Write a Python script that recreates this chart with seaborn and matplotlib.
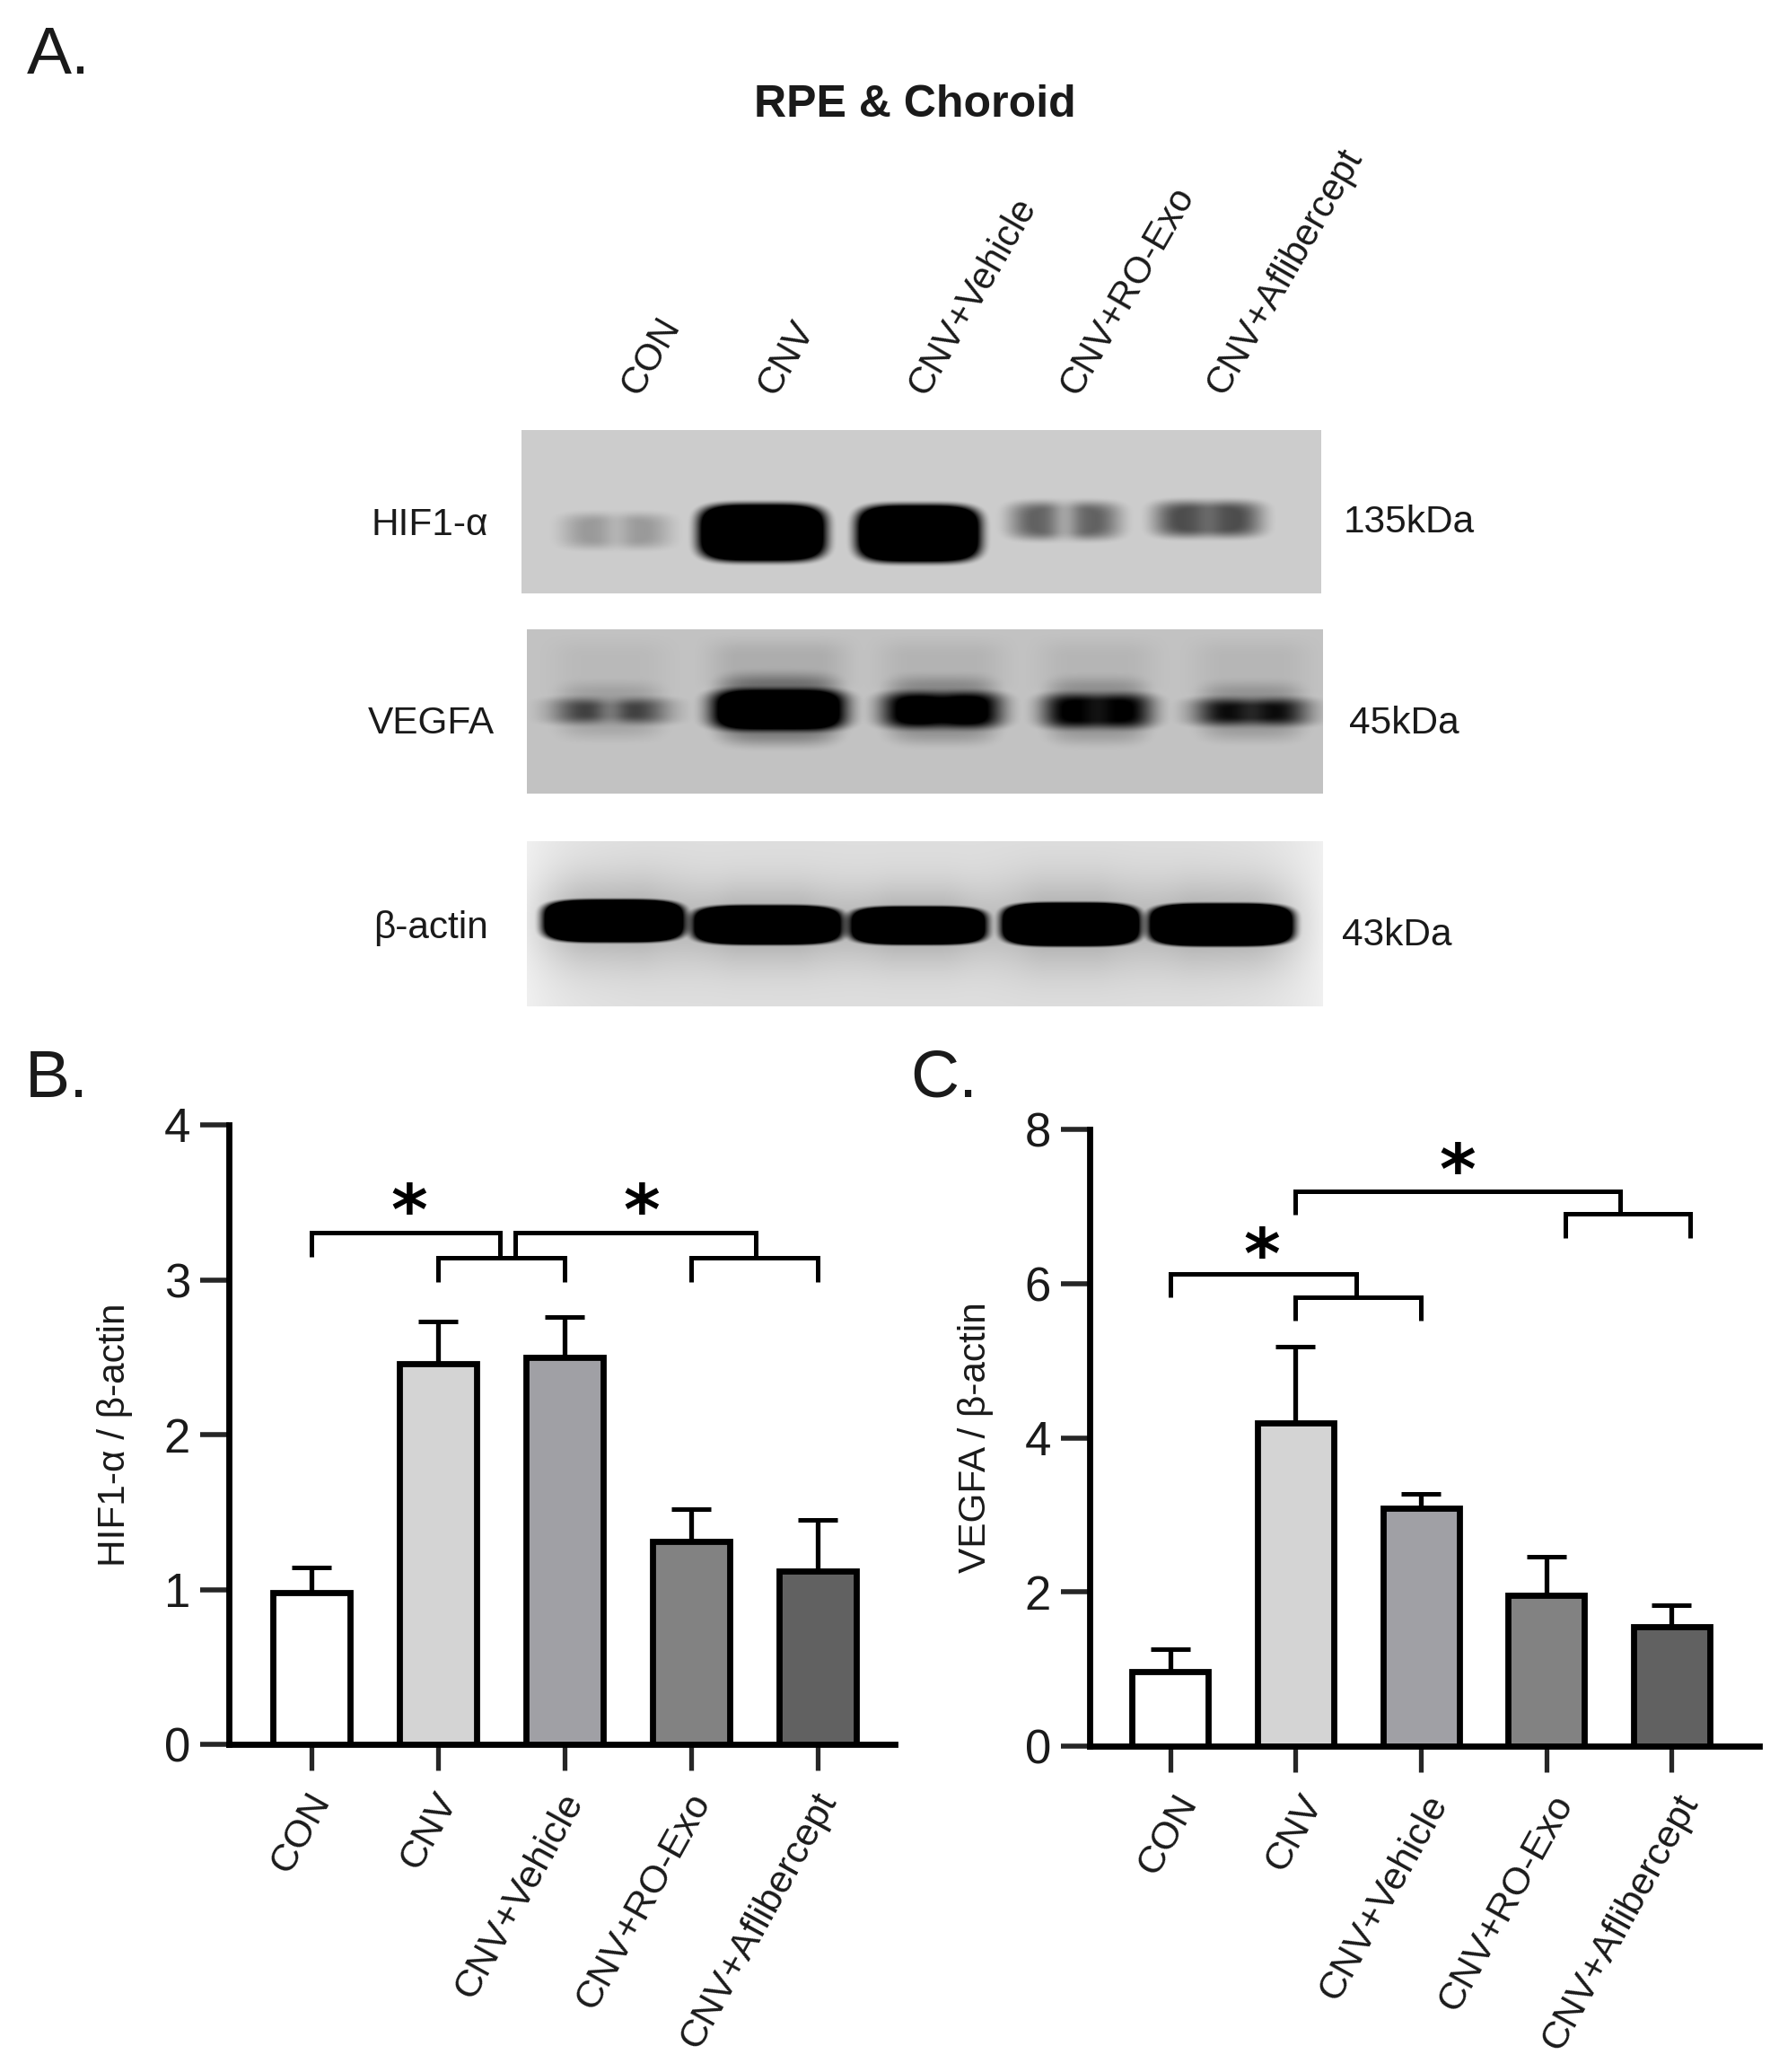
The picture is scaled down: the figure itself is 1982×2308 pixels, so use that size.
import numpy as np
import pandas as pd
import seaborn as sns
import matplotlib
matplotlib.use("Agg")
import matplotlib.pyplot as plt
from matplotlib.transforms import ScaledTranslation
from matplotlib import font_manager as fm

# ---------- data ----------
groups = ["CON", "CNV", "CNV+Vehicle", "CNV+RO-Exo", "CNV+Aflibercept"]
hif_mean = [0.98, 2.46, 2.50, 1.31, 1.12]
hif_top = [1.14, 2.73, 2.76, 1.52, 1.45]
vegfa_mean = [0.97, 4.19, 3.09, 1.96, 1.55]
vegfa_top = [1.26, 5.18, 3.27, 2.46, 1.83]
bar_colors = ["#ffffff", "#d4d4d4", "#a0a0a5", "#828282", "#616161"]

hif_band = [0.20, 1.60, 1.60, 0.42, 0.50]
vegfa_band = [0.42, 1.05, 0.72, 0.62, 0.58]
actin_band = [1.60, 1.60, 1.60, 1.60, 1.60]

W, H = 1983, 2308
DPI = 100
sns.set_theme(style="white")
avail = sorted({f.name for f in fm.fontManager.ttflist})
narrow = "Liberation Sans Narrow" if "Liberation Sans Narrow" in avail else "Liberation Sans"
plt.rcParams["font.family"] = [narrow, "Liberation Sans", "DejaVu Sans"]
TXT = "#1a1a1a"

fig = plt.figure(figsize=(W / DPI, H / DPI), dpi=DPI, facecolor="white")


def axes_px(x0, y0, x1, y1):
    return fig.add_axes([x0 / W, 1 - y1 / H, (x1 - x0) / W, (y1 - y0) / H])


def ftext(x, y, s, **kw):
    return fig.text(x / W, 1 - y / H, s, **kw)


def smooth(u):
    u = np.clip(u, 0, 1)
    return u * u * (3 - 2 * u)


def pill(X, Y, a, b, t, u, soft):
    hw, hh = (b - a) / 2, (u - t) / 2
    d = ((np.abs(X - (a + b) / 2) / hw) ** 4 + (np.abs(Y - (t + u) / 2) / hh) ** 4) ** 0.25
    return smooth((1 - d) * hh / soft + 0.5)


def draw_blot(box, ext, bands, amps, bg, soft, dips, halo=0.0, halo_h=1.2, tail=0.0, tail_w=0.0, smear=0.0, edge=0.0):
    x0, y0, x1, y1 = box
    w, h = x1 - x0, y1 - y0
    zx = np.linspace(ext[0], ext[1], w)
    zy = np.linspace(ext[2], ext[3], h)
    X, Y = np.meshgrid(zx, zy)
    img = np.full(X.shape, bg, float)
    if edge:
        fx = (X - ext[0]) / (ext[1] - ext[0])
        img += edge * (np.exp(-fx / 0.06) + np.exp(-(1 - fx) / 0.06))
    for (a, b, t, u), amp, dip in zip(bands, amps, dips):
        mid = (a + b) / 2
        prof = pill(X, Y, a, b, t, u, soft)
        lobes = 1 - dip * np.exp(-((X - mid) / ((b - a) * 0.14)) ** 2)
        img -= amp * prof * lobes
        if tail:
            img -= tail * amp * pill(X, Y, a + 8, b - 8, t - tail_w, u + tail_w, tail_w * 1.4)
        if halo:
            xfade = smooth((X - a + 70) / 140) * smooth((b + 70 - X) / 140)
            img -= halo * xfade * np.exp(-(((Y - (t + u) / 2) / ((u - t) * halo_h)) ** 2))
        if smear:
            xfade = smooth((X - a + 40) / 80) * smooth((b + 40 - X) / 80)
            img -= smear * amp * xfade * smooth((Y - ext[2]) / 70) * smooth((t + 10 - Y) / 40)
    ax = axes_px(x0, y0, x1, y1)
    sns.heatmap(np.clip(img, 0, 1), ax=ax, cmap="gray", vmin=0, vmax=1, cbar=False,
                xticklabels=False, yticklabels=False, rasterized=True)
    return ax


# ---------- blots ----------
draw_blot((581, 479, 1472, 661), (30, 1300, 45, 463),
          [(102, 258, 262, 345), (316, 508, 238, 378), (567, 754, 240, 380),
           (812, 974, 232, 322), (1042, 1200, 230, 316)],
          hif_band, 0.80, 36, [0.5, 0, 0, 0.62, 0.22])
draw_blot((587, 701, 1474, 884), (38, 1303, 555, 978),
          [(86, 254, 737, 793), (336, 539, 714, 810), (606, 789, 720, 806),
           (861, 1029, 724, 806), (1106, 1274, 737, 798)],
          vegfa_band, 0.76, 36, [0.55, 0, 0.15, 0.15, 0.2], tail=0.26, tail_w=38, smear=0.08)
draw_blot((587, 937, 1474, 1121), (38, 1303, 1100, 1525),
          [(66, 284, 1252, 1358), (306, 534, 1267, 1364), (556, 764, 1270, 1364),
           (796, 1009, 1260, 1368), (1031, 1254, 1262, 1368)],
          actin_band, 0.87, 18, [0, 0, 0, 0, 0], halo=0.20, halo_h=1.1, edge=0.07)


# ---------- bar panels ----------
LW = 4.9


def bar_panel(box, xlim, ymax, yticks, means, tops, ylabel, label_x, dx):
    ax = axes_px(*box)
    df = pd.DataFrame({"group": groups, "value": means})
    sns.barplot(data=df, x="group", y="value", hue="group", order=groups, hue_order=groups,
                palette=bar_colors, legend=False, width=0.61, edgecolor="black",
                linewidth=LW, saturation=1, ax=ax, zorder=3)
    ax.errorbar(range(len(groups)), means,
                yerr=[np.zeros(len(means)), np.array(tops) - np.array(means)],
                fmt="none", ecolor="black", elinewidth=3.8, capsize=16, capthick=3.6, zorder=2)
    ax.set_xlim(*xlim)
    ax.set_ylim(0, ymax)
    ax.set_yticks(yticks)
    ax.set_xlabel("")
    ax.set_ylabel("")
    for s in ("top", "right"):
        ax.spines[s].set_visible(False)
    for s in ("left", "bottom"):
        ax.spines[s].set_linewidth(LW)
        ax.spines[s].set_color("black")
        ax.spines[s].set_capstyle("projecting")
    ax.tick_params(axis="y", length=23, width=4.0, labelsize=38, pad=8, left=True, labelcolor=TXT)
    ax.tick_params(axis="x", length=21, width=3.8, pad=14, bottom=True)
    ax.set_xticks(range(len(groups)))
    ax.set_xticklabels(groups, rotation=61, ha="right", va="center", rotation_mode="anchor",
                       fontsize=31, color=TXT)
    off = ScaledTranslation(dx / DPI, -8 / DPI, fig.dpi_scale_trans)
    for lb in ax.get_xticklabels():
        lb.set_transform(lb.get_transform() + off)
    ftext(label_x, (box[1] + box[3]) / 2, ylabel, rotation=90, ha="center", va="center",
          fontsize=30.5, color=TXT)
    return ax


def bracket(ax, xa, xb, y, drop_a, drop_b):
    ax.plot([xa, xa, xb, xb], [drop_a, y, y, drop_b], color="black", lw=3.6,
            solid_joinstyle="miter", solid_capstyle="butt", clip_on=False, zorder=4)


def star(ax, x, y):
    ax.text(x, y, "*", ha="center", va="center", fontsize=56, fontweight="bold",
            family="DejaVu Sans", color="black")


axB = bar_panel((255, 1253, 997, 1943), (-0.652, 4.61), 4, [0, 1, 2, 3, 4], hif_mean, hif_top,
                "HIF1-α / β-actin", 128, 12)
bracket(axB, 0, 1.49, 3.305, 3.15, 3.14)
bracket(axB, 1, 2, 3.14, 2.985, 2.985)
bracket(axB, 1.61, 3.51, 3.305, 3.14, 3.14)
bracket(axB, 3, 4, 3.14, 2.985, 2.985)
star(axB, 0.775, 3.42)
star(axB, 2.61, 3.42)

axC = bar_panel((1214, 1258, 1960, 1945), (-0.644, 4.70), 8, [0, 2, 4, 6, 8], vegfa_mean, vegfa_top,
                "VEGFA / β-actin", 1087, 21)
bracket(axC, 1, 3.59, 7.2, 6.89, 6.91)
bracket(axC, 3.15, 4.15, 6.91, 6.59, 6.59)
bracket(axC, 0, 1.485, 6.13, 5.82, 5.82)
bracket(axC, 1, 2, 5.82, 5.52, 5.52)
star(axC, 2.29, 7.42)
star(axC, 0.73, 6.32)

# ---------- figure text ----------
ftext(30, 62, "A.", fontsize=54, family="Liberation Sans", ha="left", va="center", color=TXT)
ftext(28, 1202, "B.", fontsize=54, family="Liberation Sans", ha="left", va="center", color=TXT)
ftext(1014, 1202, "C.", fontsize=54, family="Liberation Sans", ha="left", va="center", color=TXT)
ftext(1019, 117, "RPE & Choroid", fontsize=36, fontweight="bold", ha="center", va="center", color=TXT)

lane_x = [720, 872, 1040, 1209, 1372]
for x, g in zip(lane_x, groups):
    ftext(x, 446, g, rotation=60, rotation_mode="anchor", ha="left", va="bottom", fontsize=30, color=TXT)

for (x, y, s) in [(479, 585, "HIF1-α"), (480, 806, "VEGFA"), (480, 1034, "β-actin")]:
    ftext(x, y, s, ha="center", va="center", fontsize=30.5, color=TXT)
for (x, y, s) in [(1570, 582, "135kDa"), (1564, 806, "45kDa"), (1556, 1042, "43kDa")]:
    ftext(x, y, s, ha="center", va="center", fontsize=30.5, color=TXT)

fig.savefig("out.png", dpi=DPI, facecolor="white")
